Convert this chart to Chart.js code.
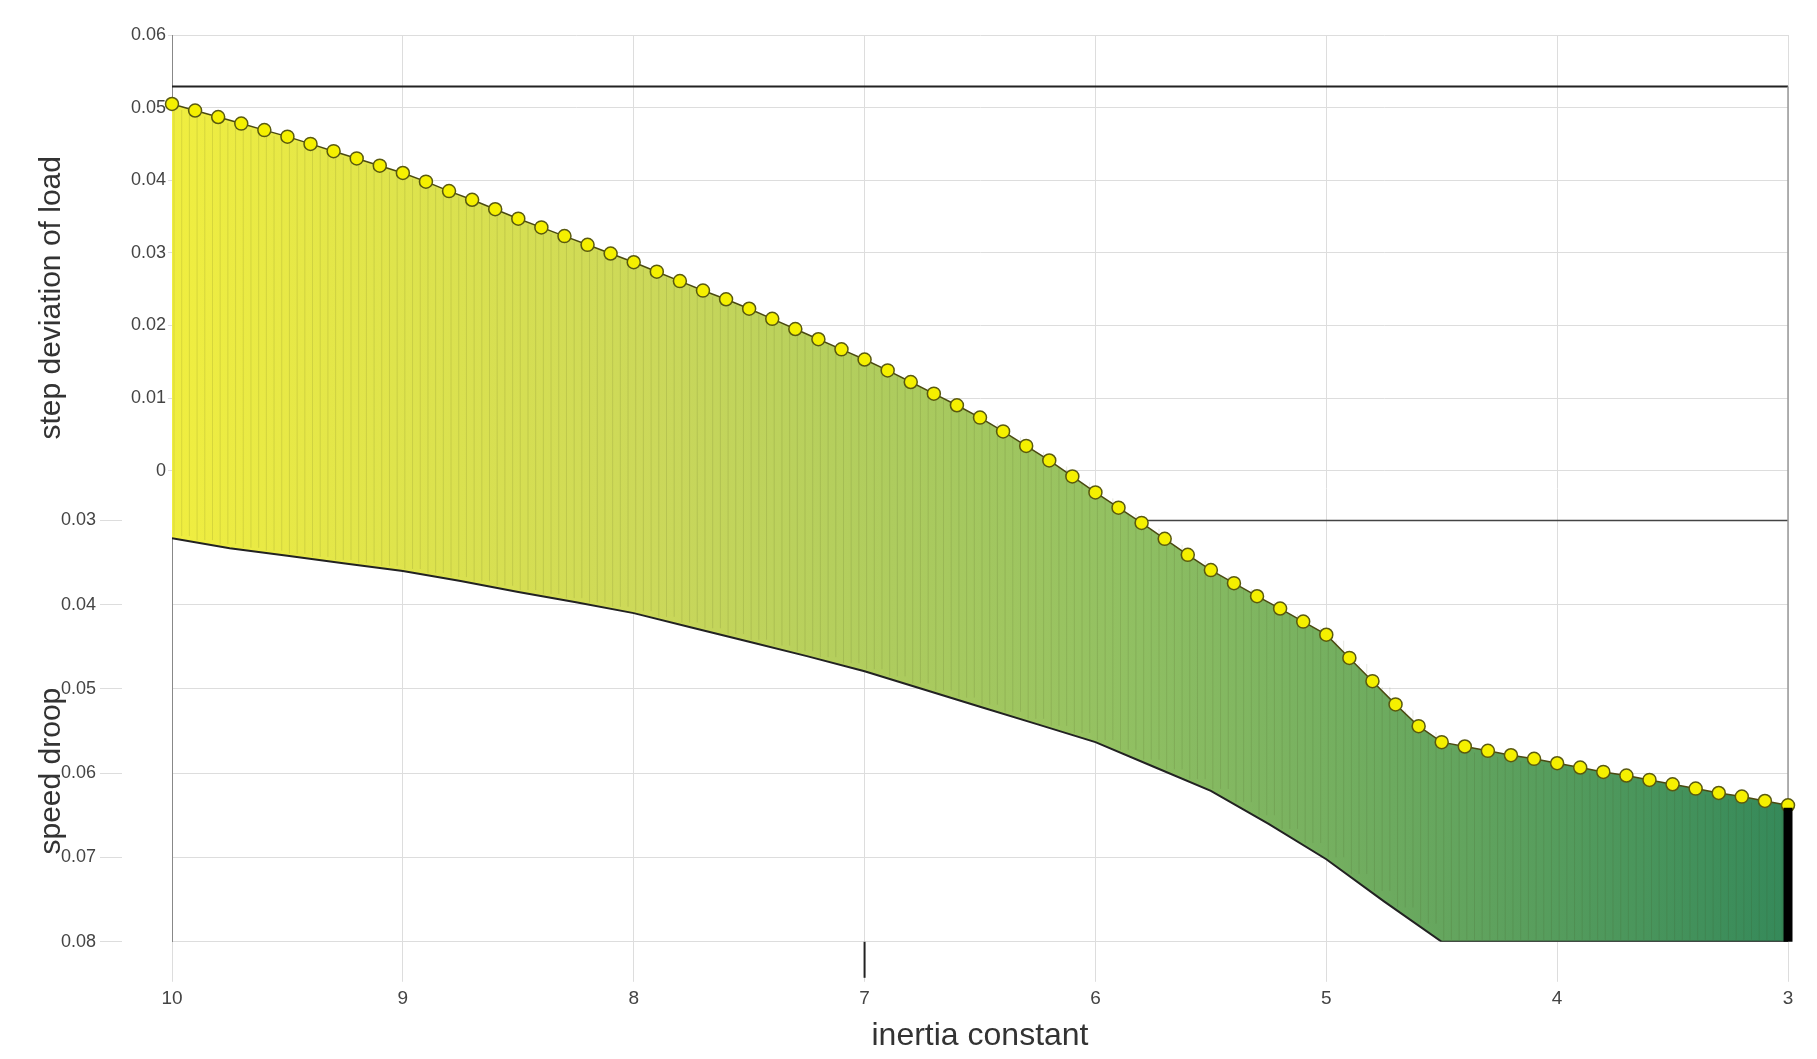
<!DOCTYPE html>
<html>
<head>
<meta charset="utf-8">
<script src="https://cdn.jsdelivr.net/npm/chart.js@4"></script>
<style>
  html, body { margin: 0; background: #fff; }
  #wrap { width: 1817px; height: 1059px; }
</style>
</head>
<body>
<div id="wrap"><canvas id="grafico"></canvas></div>
<script>
// inertia constant (x), read every 0.1
const inercia = [10.0, 9.9, 9.8, 9.7, 9.6, 9.5, 9.4, 9.3, 9.2, 9.1, 9.0, 8.9, 8.8, 8.7, 8.6, 8.5, 8.4, 8.3, 8.2, 8.1,
  8.0, 7.9, 7.8, 7.7, 7.6, 7.5, 7.4, 7.3, 7.2, 7.1, 7.0, 6.9, 6.8, 6.7, 6.6, 6.5, 6.4, 6.3, 6.2, 6.1,
  6.0, 5.9, 5.8, 5.7, 5.6, 5.5, 5.4, 5.3, 5.2, 5.1, 5.0, 4.9, 4.8, 4.7, 4.6, 4.5, 4.4, 4.3, 4.2, 4.1,
  4.0, 3.9, 3.8, 3.7, 3.6, 3.5, 3.4, 3.3, 3.2, 3.1, 3.0];
// step deviation of load (top edge, yellow markers)
const desvioCarga = [0.0505, 0.0496, 0.0487, 0.0478, 0.0469, 0.046, 0.045, 0.044, 0.043, 0.042, 0.041, 0.0398, 0.0385, 0.0373, 0.036, 0.0347, 0.0335, 0.0323, 0.0311, 0.0299,
  0.0287, 0.0274, 0.0261, 0.0248, 0.0236, 0.0223, 0.0209, 0.0195, 0.0181, 0.0167, 0.0153, 0.0138, 0.0122, 0.0106, 0.009, 0.0073, 0.0054, 0.0034, 0.0014, -0.0008,
  -0.003, -0.0051, -0.0072, -0.0094, -0.0116, -0.0137, -0.0155, -0.0173, -0.019, -0.0208, -0.0226, -0.0258, -0.029, -0.0322, -0.0352, -0.0374, -0.038, -0.0386, -0.0392, -0.0397,
  -0.0403, -0.0409, -0.0415, -0.042, -0.0426, -0.0432, -0.0438, -0.0444, -0.0449, -0.0455, -0.0461];
// speed droop (bottom edge)
const inerciaQueda = [10, 9.75, 9.5, 9.25, 9, 8.75, 8.5, 8.25, 8, 7.75, 7.5, 7.25, 7, 6.75, 6.5, 6.25, 6, 5.75, 5.5, 5.25, 5, 4.75, 4.5, 4, 3.5, 3];
const quedaVelocidade = [0.0321, 0.0333, 0.0342, 0.0351, 0.036, 0.0372, 0.0385, 0.0397, 0.041, 0.0427, 0.0444, 0.0461, 0.0479, 0.05, 0.0521, 0.0542, 0.0563, 0.0592, 0.0621, 0.066, 0.0702, 0.0752, 0.08, 0.08, 0.08, 0.08];
const ticksX = [10, 9, 8, 7, 6, 5, 4, 3];
const ticksCarga = [0, 0.01, 0.02, 0.03, 0.04, 0.05, 0.06];
const ticksQueda = [0.03, 0.04, 0.05, 0.06, 0.07, 0.08];
const barraFinal = [0.0641, 0.08]; // black edge at x = 3

const fonte = "'Liberation Sans Narrow', 'Liberation Sans', Arial, sans-serif";

const decoracao = {
  id: 'decoracao',
  beforeDatasetsDraw(chart) {
    const c = chart.ctx, a = chart.chartArea, sx = chart.scales.x;
    const yc = chart.scales.yCarga, yq = chart.scales.yQueda;
    c.save();
    c.strokeStyle = '#222'; c.lineWidth = 2;
    const topo = yc.getPixelForValue(0.0529);
    c.beginPath(); c.moveTo(a.left, topo); c.lineTo(a.right, topo); c.stroke();
    const y03 = yq.getPixelForValue(0.03);
    c.strokeStyle = '#444'; c.lineWidth = 1.5;
    c.beginPath(); c.moveTo(a.left, y03); c.lineTo(a.right, y03); c.stroke();
    c.strokeStyle = '#999';
    c.beginPath(); c.moveTo(sx.getPixelForValue(3), topo); c.lineTo(sx.getPixelForValue(3), yq.getPixelForValue(0.065)); c.stroke();
    // dark tick below x = 7
    c.strokeStyle = '#222'; c.lineWidth = 2;
    c.beginPath(); c.moveTo(sx.getPixelForValue(7), a.bottom); c.lineTo(sx.getPixelForValue(7), a.bottom + 36); c.stroke();
    c.restore();
  },
  afterDatasetsDraw(chart) {
    // fine vertical hatching of the surface
    const c = chart.ctx, a = chart.chartArea, sx = chart.scales.x;
    const yc = chart.scales.yCarga, yq = chart.scales.yQueda;
    c.save();
    c.strokeStyle = 'rgba(60,70,20,0.13)'; c.lineWidth = 1;
    for (let i = 0; i < inercia.length - 1; i++) {
      const px = sx.getPixelForValue(inercia[i]);
      const top = yc.getPixelForValue(desvioCarga[i]) + 6;
      let j = 0;
      while (j < inerciaQueda.length - 1 && inerciaQueda[j + 1] >= inercia[i]) j++;
      const x0 = inerciaQueda[j], x1 = inerciaQueda[Math.min(j + 1, inerciaQueda.length - 1)];
      const t = x0 === x1 ? 0 : (x0 - inercia[i]) / (x0 - x1);
      const bot = yq.getPixelForValue(quedaVelocidade[j] + t * (quedaVelocidade[Math.min(j + 1, quedaVelocidade.length - 1)] - quedaVelocidade[j]));
      for (let k = 0; k < 3; k++) {
        const xx = px + k * 7.7 + 2;
        if (xx > a.right - 4) break;
        c.beginPath(); c.moveTo(xx, top); c.lineTo(xx, bot - 2); c.stroke();
      }
    }
    c.restore();
  },
  afterDraw(chart) {
    const c = chart.ctx, yc = chart.scales.yCarga, yq = chart.scales.yQueda;
    c.save();
    c.fillStyle = '#333';
    c.font = '30px ' + fonte;
    c.textAlign = 'center'; c.textBaseline = 'middle';
    c.translate(52, (yc.getPixelForValue(0.06) + yc.getPixelForValue(0)) / 2 + 45);
    c.rotate(-Math.PI / 2); c.fillText('step deviation of load', 0, 0);
    c.restore();
    c.save();
    c.fillStyle = '#333';
    c.font = '30px ' + fonte;
    c.textAlign = 'center'; c.textBaseline = 'middle';
    c.translate(52, (yq.getPixelForValue(0.03) + yq.getPixelForValue(0.08)) / 2 + 40);
    c.rotate(-Math.PI / 2); c.fillText('speed droop', 0, 0);
    c.restore();
  }
};

function gradiente(context) {
  const a = context.chart.chartArea;
  if (!a) return '#9c3';
  const g = context.chart.ctx.createLinearGradient(a.left, 0, a.right, 0);
  g.addColorStop(0, '#f0ee40');
  g.addColorStop(0.3, '#cbd85a');
  g.addColorStop(0.6, '#8fbf62');
  g.addColorStop(1, '#35895a');
  return g;
}

const ctx = document.getElementById('grafico').getContext('2d');
const grafico = new Chart(ctx, {
  type: 'line',
  data: {
    datasets: [
      {
        label: 'edge',
        data: [{ x: 3, y: barraFinal[0] }, { x: 3, y: barraFinal[1] }],
        yAxisID: 'yQueda',
        borderColor: '#000', borderWidth: 9, pointRadius: 0, fill: false, clip: false,
        order: -1
      },
      {
        label: 'speed droop',
        data: inerciaQueda.map((x, i) => ({ x: x, y: quedaVelocidade[i] })),
        yAxisID: 'yQueda',
        borderColor: '#222', borderWidth: 2, pointRadius: 0,
        fill: false
      },
      {
        label: 'step deviation of load',
        data: inercia.map((x, i) => ({ x: x, y: desvioCarga[i] })),
        yAxisID: 'yCarga',
        borderColor: '#4a4a10', borderWidth: 1.5,
        pointRadius: 6.5, pointBackgroundColor: '#f5f000', pointBorderColor: '#5a5a10', pointBorderWidth: 1.5,
        backgroundColor: gradiente,
        fill: 1, clip: false
      }
    ]
  },
  options: {
    responsive: true,
    maintainAspectRatio: false,
    animation: false,
    layout: { padding: { left: 32, right: 29, top: 35, bottom: 0 } },
    plugins: { legend: { display: false }, tooltip: { enabled: false } },
    scales: {
      x: {
        type: 'linear', reverse: true, min: 3, max: 10,
        afterBuildTicks: s => { s.ticks = ticksX.map(v => ({ value: v })); },
        ticks: { color: '#444', font: { family: fonte, size: 19 }, padding: 6 },
        grid: { color: '#ddd', tickLength: 40 },
        border: { display: false },
        title: { display: true, text: 'inertia constant', color: '#333', font: { family: fonte, size: 32 }, padding: { top: 0 } }
      },
      yCarga: {
        position: 'left', min: -0.0649, max: 0.06,
        afterBuildTicks: s => { s.ticks = ticksCarga.map(v => ({ value: v })); },
        afterFit: s => { s.width = 50; },
        ticks: { color: '#444', font: { family: fonte, size: 18 }, padding: 2, callback: v => v === 0 ? '0' : String(+v.toFixed(2)) },
        grid: { color: '#ddd', tickLength: 4 },
        border: { color: '#888' }
      },
      yQueda: {
        position: 'left', reverse: true, min: -0.0276, max: 0.08,
        afterBuildTicks: s => { s.ticks = ticksQueda.map(v => ({ value: v })); },
        afterFit: s => { s.width = 90; },
        ticks: { color: '#444', font: { family: fonte, size: 18 }, padding: 4, callback: v => String(+v.toFixed(2)) },
        grid: { color: '#ddd', tickLength: 22 },
        border: { display: false }
      }
    }
  },
  plugins: [decoracao]
});
</script>
</body>
</html>
